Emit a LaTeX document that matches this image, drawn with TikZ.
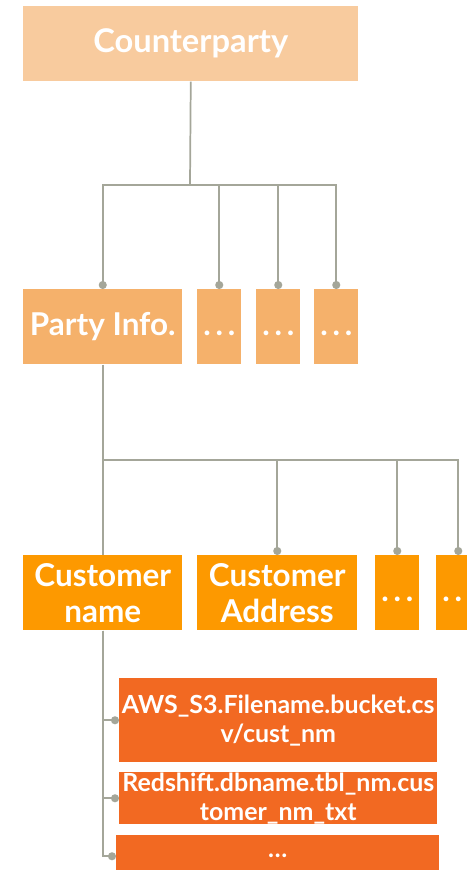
\documentclass[tikz,border=0pt]{standalone}
\usepackage{fontspec}
\setmainfont{Lato}
\usetikzlibrary{arrows.meta}
\definecolor{lvlA}{HTML}{F8CB9E}
\definecolor{lvlB}{HTML}{F5B16B}
\definecolor{lvlC}{HTML}{FD9900}
\definecolor{lvlD}{HTML}{F26922}
\definecolor{wire}{HTML}{A4A699}
\newcommand{\gapdots}{\vphantom{Py}.\hspace{3.6pt}.\hspace{3.6pt}.}
\tikzset{
  box/.style={rectangle, anchor=north west, inner sep=0pt, text=white,
    font=\fontsize{23.6}{27}\selectfont\bfseries, align=center},
  smallbox/.style={box, font=\fontsize{18.7}{21.8}\selectfont\bfseries},
  conn/.style={draw=wire, line width=1.3pt},
  dot/.style={conn, -{Circle[length=6pt, width=6pt]}},
}
\begin{document}
\begin{tikzpicture}[x=0.75pt, y=-0.75pt]
\useasboundingbox (0,0) rectangle (467,870);

% top level
\node[box, fill=lvlA, minimum width=335*0.75pt, minimum height=75*0.75pt,
      font=\fontsize{24.5}{27.5}\selectfont\bfseries] (cp) at (23,6) {Counterparty};

% second level
\node[box, fill=lvlB, minimum width=159*0.75pt, minimum height=75*0.75pt] (pi) at (23,289) {Party Info.};
\node[box, fill=lvlB, minimum width=44*0.75pt, minimum height=75*0.75pt] (m1) at (197,289) {\gapdots};
\node[box, fill=lvlB, minimum width=44*0.75pt, minimum height=75*0.75pt] (m2) at (256,289) {\gapdots};
\node[box, fill=lvlB, minimum width=44*0.75pt, minimum height=75*0.75pt] (m3) at (314,289) {\gapdots};

% third level
\node[box, fill=lvlC, minimum width=159*0.75pt, minimum height=75*0.75pt] (cn) at (23,555) {Customer\\name};
\node[box, fill=lvlC, minimum width=160*0.75pt, minimum height=75*0.75pt] (ca) at (197,555) {Customer\\Address};
\node[box, fill=lvlC, minimum width=44*0.75pt, minimum height=75*0.75pt] (e1) at (375,555) {\gapdots};
\node[box, fill=lvlC, minimum width=44*0.75pt, minimum height=75*0.75pt] (e2) at (436,555) {\gapdots};

% sources
\node[smallbox, fill=lvlD, minimum width=318*0.75pt, minimum height=84*0.75pt] (s1) at (119,678) {AWS\_S3.Filename.bucket.cs\\v/cust\_nm};
\node[smallbox, fill=lvlD, minimum width=318*0.75pt, minimum height=52*0.75pt] (s2) at (119,772) {Redshift.dbname.tbl\_nm.cus\\tomer\_nm\_txt};
\node[smallbox, fill=lvlD, minimum width=323*0.75pt, minimum height=42*0.75pt] (s3) at (116,835) {\ldots};

% connectors
\coordinate (busA) at (190,185);
\coordinate (busB) at (102.5,460);
\draw[conn] (cp.south) -- (busA);
\draw[dot] (busA) -| (pi.north);
\draw[dot] (busA) -| (m1.north);
\draw[dot] (busA) -| (m2.north);
\draw[dot] (busA) -| (m3.north);

\draw[conn] (pi.south) -- (cn.north);
\draw[dot] (busB) -| (ca.north);
\draw[dot] (busB) -| (e1.north);
\draw[dot] (busB) -| (e2.north);

\draw[dot] (cn.south) |- (s1.west);
\draw[dot] (cn.south) |- (s2.west);
\draw[dot] (cn.south) |- (s3.west);
\end{tikzpicture}
\end{document}
